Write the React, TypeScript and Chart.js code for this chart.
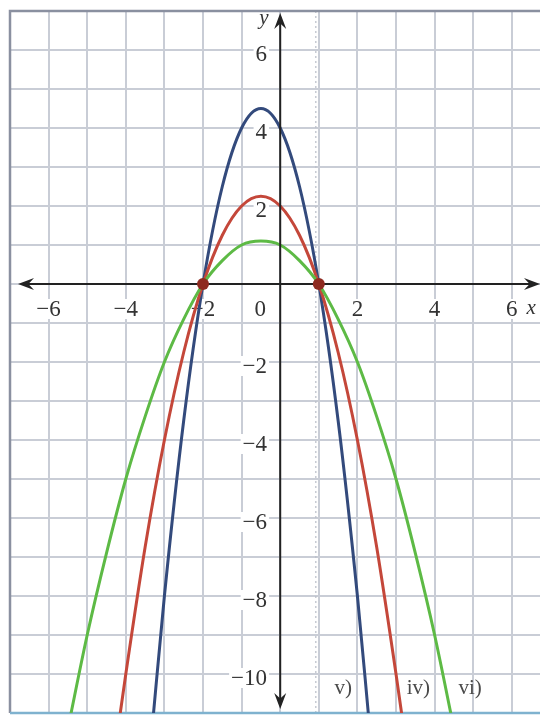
import { useEffect, useRef } from 'react';
import { Chart, registerables } from 'chart.js';

Chart.register(...registerables);

// ---- data ----
const blueX = [-3.3, -3, -2.5, -2, -1.5, -1, -0.5, 0, 0.5, 1, 1.5, 2, 2.3];
const blueY = [-11.2, -8, -3.5, 0, 2.5, 4, 4.5, 4, 2.5, 0, -3.5, -8, -11.2];

const redX = [-4.2, -4, -3.5, -3, -2.5, -2, -1.5, -1, -0.5, 0, 0.5, 1, 1.5, 2, 2.5, 3, 3.2];
const redY = [-11.4, -10, -6.75, -4, -1.75, 0, 1.25, 2, 2.25, 2, 1.25, 0, -1.75, -4, -6.75, -10, -11.4];

const greenX = [-5.5, -5, -4.5, -4, -3.5, -3, -2.5, -2, -1.5, -1, -0.5, 0, 0.5, 1, 1.5, 2, 2.5, 3, 3.5, 4, 4.5];
const greenY = [-11.4, -9, -6.9, -5, -3.4, -2, -0.9, 0, 0.6, 1, 1.1, 1, 0.6, 0, -0.9, -2, -3.4, -5, -6.9, -9, -11.4];

const rootX = [-2, 1];
const rootY = [0, 0];

const xTickLabels = [-6, -4, -2, 2, 4, 6];
const yTickLabels = [6, 4, 2, -2, -4, -6, -8, -10];

const curveLabels = ['v)', 'iv)', 'vi)'];
const curveLabelX = [1.63, 3.58, 4.92];
const curveLabelY = [-10.36, -10.36, -10.36];

const X_MIN = -7;
const X_MAX = 6.73;
const Y_MIN = -11;
const Y_MAX = 7;

const pts = (xs: number[], ys: number[]) => xs.map((x, i) => ({ x, y: ys[i] }));
const fmt = (v: number) => (v < 0 ? '\u2212' + Math.abs(v) : String(v));

const SERIF = '"Liberation Serif", Tinos, "Times New Roman", Times, serif';
const FONT = '23px ' + SERIF;

const decor = {
  id: 'decor',
  beforeDatasetsDraw(chart: any) {
    const { ctx, chartArea: a, scales } = chart;
    const sx = scales.x;
    const sy = scales.y;
    ctx.save();

    // faint dotted line near x = 1
    ctx.strokeStyle = '#b9bec8';
    ctx.lineWidth = 1.2;
    ctx.setLineDash([2, 3]);
    ctx.beginPath();
    ctx.moveTo(sx.getPixelForValue(1) - 3, a.top);
    ctx.lineTo(sx.getPixelForValue(1) - 3, a.bottom);
    ctx.stroke();
    ctx.setLineDash([]);

    // frame
    ctx.lineWidth = 2.5;
    ctx.strokeStyle = '#8a90a0';
    ctx.beginPath();
    ctx.moveTo(a.left, a.bottom);
    ctx.lineTo(a.left, a.top);
    ctx.lineTo(a.right, a.top);
    ctx.stroke();
    ctx.strokeStyle = '#7fb2cf';
    ctx.beginPath();
    ctx.moveTo(a.left, a.bottom);
    ctx.lineTo(a.right, a.bottom);
    ctx.stroke();

    // tick labels with white backing
    ctx.font = FONT;
    ctx.textBaseline = 'middle';
    const label = (t: string, px: number, py: number, align: 'center' | 'right') => {
      const w = ctx.measureText(t).width;
      const left = align === 'center' ? px - w / 2 : px - w;
      ctx.fillStyle = '#ffffff';
      ctx.fillRect(left - 2, py - 10, w + 4, 20);
      ctx.fillStyle = '#333333';
      ctx.textAlign = align;
      ctx.fillText(t, px, py + 1);
    };
    const xLabelY = sy.getPixelForValue(0) + 25;
    xTickLabels.forEach((v) => label(fmt(v), sx.getPixelForValue(v), xLabelY, 'center'));
    label('0', sx.getPixelForValue(-0.52), xLabelY, 'center');
    yTickLabels.forEach((v) => label(fmt(v), sx.getPixelForValue(-0.34), sy.getPixelForValue(v) + 4, 'right'));

    // axis names
    ctx.font = 'italic 21px ' + SERIF;
    ctx.fillStyle = '#333333';
    ctx.textAlign = 'center';
    ctx.fillText('x', sx.getPixelForValue(6.5), sy.getPixelForValue(-0.62));
    ctx.fillText('y', sx.getPixelForValue(-0.42), sy.getPixelForValue(6.8));

    ctx.restore();
  },
  afterDatasetsDraw(chart: any) {
    const { ctx, chartArea: a, scales } = chart;
    const sx = scales.x;
    const sy = scales.y;
    const x0 = sx.getPixelForValue(0);
    const y0 = sy.getPixelForValue(0);
    ctx.save();
    ctx.strokeStyle = '#222222';
    ctx.fillStyle = '#222222';
    ctx.lineWidth = 2;
    const L = a.left + 8;
    const R = a.right;
    const T = a.top + 2;
    const B = a.bottom - 4;
    ctx.beginPath();
    ctx.moveTo(L + 4, y0);
    ctx.lineTo(R - 4, y0);
    ctx.moveTo(x0, T + 4);
    ctx.lineTo(x0, B - 4);
    ctx.stroke();
    const arrow = (tx: number, ty: number, dx: number, dy: number) => {
      const len = 16;
      const hw = 6;
      const bx = tx - dx * len;
      const by = ty - dy * len;
      const mx = tx - dx * len * 0.65;
      const my = ty - dy * len * 0.65;
      ctx.beginPath();
      ctx.moveTo(tx, ty);
      ctx.lineTo(bx - dy * hw, by + dx * hw);
      ctx.lineTo(mx, my);
      ctx.lineTo(bx + dy * hw, by - dx * hw);
      ctx.closePath();
      ctx.fill();
    };
    arrow(L, y0, -1, 0);
    arrow(R, y0, 1, 0);
    arrow(x0, T, 0, -1);
    arrow(x0, B, 0, 1);

    // curve labels
    ctx.font = '21px ' + SERIF;
    ctx.fillStyle = '#4a4a4a';
    ctx.textAlign = 'center';
    ctx.textBaseline = 'middle';
    curveLabels.forEach((t, i) => {
      ctx.fillText(t, sx.getPixelForValue(curveLabelX[i]), sy.getPixelForValue(curveLabelY[i]));
    });

    // root dots
    ctx.fillStyle = '#8e2a20';
    rootX.forEach((rx, i) => {
      ctx.beginPath();
      ctx.arc(sx.getPixelForValue(rx), sy.getPixelForValue(rootY[i]), 6, 0, Math.PI * 2);
      ctx.fill();
    });
    ctx.restore();
  },
};

export default function App() {
  const ref = useRef<HTMLCanvasElement | null>(null);
  useEffect(() => {
    document.body.style.margin = '0';
    const canvas = ref.current;
    if (!canvas) return;
    const line = (data: any[], color: string, width: number) => ({
      data,
      borderColor: color,
      borderWidth: width,
      pointRadius: 0,
      showLine: true,
      fill: false,
      cubicInterpolationMode: 'monotone' as const,
    });
    const chart = new Chart(canvas, {
      type: 'scatter',
      data: {
        datasets: [
          line(pts(greenX, greenY), '#5dba45', 3),
          line(pts(redX, redY), '#c4473a', 3),
          line(pts(blueX, blueY), '#334a7c', 3),
        ],
      },
      options: {
        responsive: false,
        animation: false,
        devicePixelRatio: 1,
        layout: { padding: { left: 10, top: 11, right: 0, bottom: 2 } },
        plugins: { legend: { display: false }, tooltip: { enabled: false } },
        scales: {
          x: {
            type: 'linear',
            min: X_MIN,
            max: X_MAX,
            ticks: { display: false, stepSize: 1, includeBounds: false },
            grid: { color: '#c9cdd6', lineWidth: 2, drawTicks: false },
            border: { display: false },
          },
          y: {
            type: 'linear',
            min: Y_MIN,
            max: Y_MAX,
            ticks: { display: false, stepSize: 1, includeBounds: false },
            grid: { color: '#c9cdd6', lineWidth: 2, drawTicks: false },
            border: { display: false },
          },
        },
      },
      plugins: [decor],
    });
    return () => chart.destroy();
  }, []);
  return <canvas ref={ref} width={540} height={715} style={{ display: 'block' }} />;
}
